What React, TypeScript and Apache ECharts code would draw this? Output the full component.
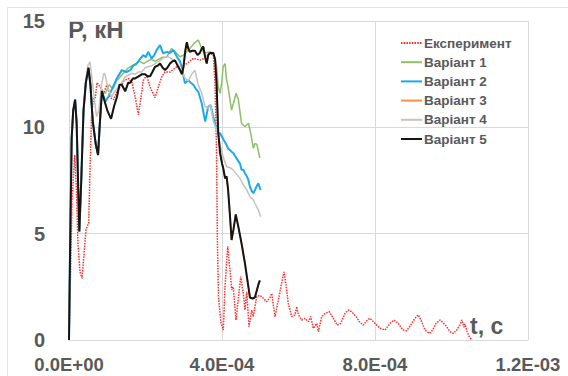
import React, { useEffect, useRef } from "react";
import * as echarts from "echarts";

// time in microseconds, force in kN
const US = 1e-6;

const seriesNames = ["Експеримент", "Варіант 1", "Варіант 2", "Варіант 3", "Варіант 4", "Варіант 5"];

const tExp = [0,3.9,7.8,14.9,19.6,23.5,28.8,34,39.2,44.4,51.5,54.9,58.8,64.1,68.8,73.2,81.8,90.2,99.3,108,116.9,125.5,134.1,143.8,155.6,164.7,173.3,181.2,188.2,194.2,203.1,211.8,224.8,233.5,243.1,251,264.1,281.6,298.8,307.7,325,342.5,355.6,368.6,377.3,381.7,385.6,387.7,390.8,397.4,403.4,407.8,414.9,420.9,425.4,429.5,436.6,443.1,448.9,455.7,460.2,464.6,470.6,477.7,481.8,490.7,499.4,508,516.9,525.5,529.9,538.6,547.2,556.1,562.1,567.3,573.3,582.2,590.8,595.3,599.5,608.4,617,625.6,631.9,638.7,647.6,651.8,660.7,669.3,680.5,691,701.4,710.3,721.6,730.2,739.1,750.3,759,769.4,779.9,786.9,795.6,804.4,813.1,826.2,839.2,849.7,860.9,872.4,882.9,893.3,904.6,913.2,922.1,930.7,941.9,950.8,959.5,969.9,978.6,987.5,996.1,1004.7,1013.6,1022.2,1026.7,1032.7,1035.3,1040.5,1046.5,1052.8];
const pExp = [0,3,6.5,8.7,7,4.5,3.2,2.9,4,5.2,5.5,8,10.5,11.4,11.4,12.1,11.9,11.6,12.0,11.4,11.3,11.7,11.9,12.2,12.3,12.1,11.4,10.6,11.4,12.2,12.45,11.9,11.4,11.9,12.4,12.6,12.6,12.85,12.9,13.0,13.24,13.16,13.25,13.48,13.4,12.1,9,5,2,0.8,0.47,2.5,4.4,3.3,2.35,2.5,0.94,2,2.98,2.19,1.41,2.27,0.63,1.4,1.1,2.04,2.1,1.96,1.8,2.0,2.19,1.1,1.88,2.7,3.2,2.6,1.72,1.1,1.18,1.57,1.2,0.94,1.02,0.86,1.1,0.55,0.78,0.39,1.1,1.25,1.33,1.02,0.7,0.78,1.25,1.41,1.33,1.1,0.86,0.7,0.94,1.02,0.86,0.7,0.55,0.47,0.78,0.94,0.78,0.47,0.44,0.7,1.02,1.18,0.86,0.47,0.31,0.47,0.78,0.94,0.8,0.63,0.39,0.31,0.47,0.7,0.94,0.6,0.75,0.4,0.16,0];

const tV1 = [0,3,7,11,16,20,24,27,32,38,44,51,56,62,70,76,80,86,95,105,115,125,135,145,155,165,175,185,195,205,215,225,235,245,255,268,280,290,300,310,320,330,338,345,351,360,369,377,386,390,395,399,403,408,412,416,421,425,430,437,443,451,460,469,475,482,486,491,495,499];
const pV1 = [0,4.5,9.5,10.8,11.3,10.2,7.2,5.1,7.5,10.8,12.1,12.8,12.0,10.3,9.2,8.7,10.0,11.7,11.6,12.0,11.8,12.2,12.4,12.6,12.8,12.9,13.0,13.1,13.0,13.1,13.2,13.1,13.2,13.3,13.3,13.7,13.5,13.32,13.4,13.6,13.8,14.0,14.1,13.8,13.55,13.5,13.55,13.5,12.85,11.9,11.6,12.07,12.85,13.0,12.22,11.9,11.28,10.81,11.13,11.6,11.28,10.19,10.03,10.19,9.72,9.01,9.24,9.2,8.9,8.55];

const tV2 = [0,3,7,11,16,20,24,27,32,38,44,51,56,62,70,76,80,86,95,105,115,125,138,150,160,168,177,185,194,201,207,216,223,229,238,246,255,264,273,282,290,295,303,312,318,325,332,338,347,356,364,370,377,384,390,395,403,408,412,416,421,425,430,434,438,443,447,451,456,460,465,469,473,478,482,486,490,495,501];
const pV2 = [0,4.5,9.5,10.8,11.3,10.2,7.2,5.1,7.5,10.8,12.1,12.8,12.0,10.3,9.2,8.7,10.0,11.7,11.2,11.5,11.9,12.3,12.69,12.6,12.69,12.9,13.0,13.2,13.4,13.3,13.55,13.24,13.4,13.63,13.87,13.48,13.55,13.5,13.63,13.32,13.1,12.85,12.07,12.22,12.1,12.0,11.8,11.67,11.13,10.27,10.97,11.05,10.5,10.03,9.72,9.72,9.45,9.3,9.17,9.0,8.93,8.85,8.78,8.65,8.54,8.4,8.3,8.0,8.0,7.83,7.7,7.52,7.2,7.0,6.9,7.05,7.21,7.37,7.05];

const tV4 = [0,3,7,11,16,20,24,27,32,38,44,49,55,60,66,72,78,85,91,94,100,107,112,120,129,138,147,155,164,173,181,190,199,207,216,225,233,242,251,260,269,277,286,295,304,312,321,329,338,347,356,364,370,377,386,395,403,412,421,429,438,447,456,465,473,482,486,495,501];
const pV4 = [0,4.5,9.5,10.8,11.3,10.2,7.2,5.1,7.5,10.8,12.2,12.9,13.08,12.3,11.4,10.5,10.8,12.0,12.54,12.5,12.0,11.6,11.44,11.7,11.9,12.1,12.38,12.45,12.54,12.5,12.6,12.6,12.8,12.85,12.9,13.0,13.08,13.2,13.3,13.32,13.2,13.16,12.9,12.6,12.3,12.2,12.5,12.69,12.0,11.6,10.97,10.9,11.05,10.3,9.87,9.2,8.62,8.15,8.1,8.0,7.8,7.6,7.3,7.05,6.74,6.58,6.43,6.11,5.8];

const tV5 = [0,3,7,11,16,20,24,27,32,38,44,51,56,62,70,76,80,86,92,100,110,118,125,132,138,147,155,160,167,173,182,191,199,205,212,218,225,232,238,245,251,257,264,270,277,284,290,295,299,304,308,312,316,322,329,336,342,347,351,356,360,364,369,373,377,382,386,390,395,400,403,408,412,416,421,425,430,436,443,451,460,469,473,480,486,495,499];
const pV5 = [0,4.5,9.5,10.8,11.3,10.2,7.2,5.1,7.5,10.8,12.1,12.8,12.0,10.3,9.2,8.7,10.0,11.7,11.3,10.8,10.4,11.0,11.4,12.0,12.0,11.7,12.1,12.1,12.3,12.3,12.4,12.5,12.5,12.4,12.4,12.6,12.85,12.9,13.0,12.8,12.7,12.8,13.0,13.1,13.15,12.9,12.7,12.5,12.8,13.6,14.0,13.7,13.55,13.6,13.6,13.4,13.5,13.7,13.8,13.3,13.0,13.4,13.5,13.5,13.5,13.2,12.0,9.8,8.8,8.3,8.1,7.6,7.7,7.05,5.8,4.7,5.2,5.9,5.3,4.55,3.6,2.5,2.0,1.95,2.0,2.6,2.8];

// Variant 3 lies completely under Variant 5 in the picture
const tV3 = tV5;
const pV3 = pV5;

const xTicks = [0, 4e-4, 8e-4, 1.2e-3];
const yTicks = [0, 5, 10, 15];

const FONT = "'Liberation Sans', Arial, sans-serif";
const TXT = "#595959";

function pairs(t: number[], p: number[]) {
  return t.map((v, i) => [v * US, p[i]]);
}

function fmtExp(v: number) {
  const [m, e] = v.toExponential(1).split("e");
  const sign = e[0] === "-" ? "-" : "+";
  const d = e.replace(/[+-]/, "").padStart(2, "0");
  return `${m}E${sign}${d}`;
}

export default function App() {
  const ref = useRef<HTMLDivElement>(null);
  useEffect(() => {
    if (!ref.current) return;
    const chart = echarts.init(ref.current, null, { renderer: "svg" });
    const mk = (name: string, t: number[], p: number[], color: string, width: number, type: any = "solid") => ({
      name,
      type: "line",
      data: pairs(t, p),
      symbol: "none",
      showSymbol: false,
      lineStyle: { color, width, type },
      itemStyle: { color },
      emphasis: { disabled: true },
    });
    chart.setOption({
      animation: false,
      grid: { left: 69, right: 40, top: 21, bottom: 36, containLabel: false },
      xAxis: {
        type: "value",
        min: xTicks[0],
        max: xTicks[xTicks.length - 1],
        interval: 4e-4,
        axisLine: { show: true, lineStyle: { color: "#d9d9d9", width: 1 } },
        axisTick: { show: false },
        splitLine: { show: true, lineStyle: { color: "#d9d9d9", width: 1 } },
        axisLabel: {
          formatter: (v: number) => fmtExp(v),
          fontSize: 18.5,
          fontWeight: "bold",
          fontFamily: FONT,
          color: TXT,
          margin: 15,
        },
      },
      yAxis: {
        type: "value",
        min: yTicks[0],
        max: yTicks[yTicks.length - 1],
        interval: 5,
        axisLine: { show: true, lineStyle: { color: "#d9d9d9", width: 1 } },
        axisTick: { show: false },
        splitLine: { show: true, lineStyle: { color: "#d9d9d9", width: 1 } },
        axisLabel: {
          fontSize: 20,
          fontWeight: "bold",
          fontFamily: FONT,
          color: TXT,
          margin: 24,
        },
      },
      legend: {
        orient: "vertical",
        left: 400,
        top: 36,
        padding: 0,
        itemWidth: 21,
        itemHeight: 14,
        itemGap: 5.2,
        data: seriesNames,
        itemStyle: { color: "rgba(0,0,0,0)", borderWidth: 0, opacity: 0 },
        textStyle: { fontSize: 13.5, fontWeight: "bold", fontFamily: FONT, color: TXT, padding: [0, 0, 0, -3] },
      },
      graphic: [
        { type: "line", shape: { x1: 7, y1: 7.5, x2: 568, y2: 7.5 }, style: { stroke: "#e3e3e3", lineWidth: 1 } },
        { type: "line", shape: { x1: 7.5, y1: 7, x2: 7.5, y2: 376 }, style: { stroke: "#e3e3e3", lineWidth: 1 } },
        {
          type: "text",
          x: 68,
          y: 29,
          style: { text: "P, кН", fontSize: 24, fontWeight: "bold", fontFamily: FONT, fill: TXT, verticalAlign: "middle" },
        },
        {
          type: "text",
          x: 470,
          y: 326,
          style: { text: "t, с", fontSize: 23, fontWeight: "bold", fontFamily: FONT, fill: TXT, verticalAlign: "middle" },
        },
      ],
      series: [
        mk(seriesNames[0], tExp, pExp, "#ff2a2a", 1.5, [1.5, 1.2]),
        mk(seriesNames[1], tV1, pV1, "#8cc168", 1.5),
        mk(seriesNames[2], tV2, pV2, "#1aa9ec", 2),
        mk(seriesNames[3], tV3, pV3, "#f7904a", 1.5),
        mk(seriesNames[4], tV4, pV4, "#c9c2bc", 1.5),
        mk(seriesNames[5], tV5, pV5, "#151515", 2),
      ],
    });
    return () => chart.dispose();
  }, []);
  return <div ref={ref} style={{ position: "absolute", left: 0, top: 0, width: 568, height: 376, background: "#fff" }} />;
}
